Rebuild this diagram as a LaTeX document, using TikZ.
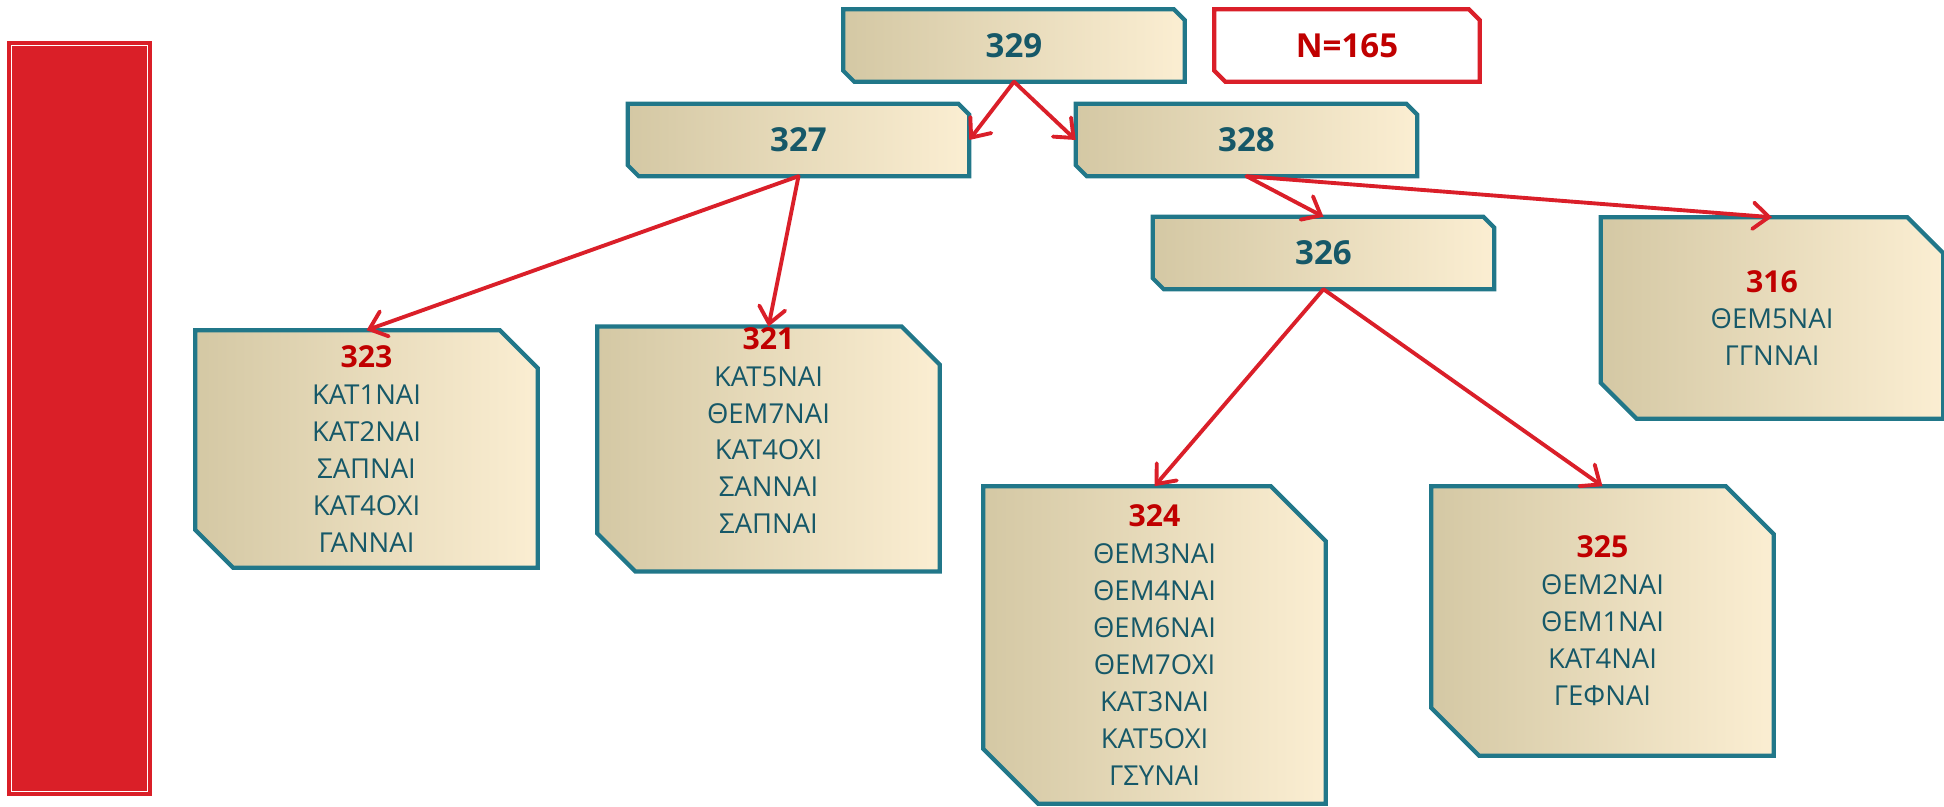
\documentclass[tikz,border=0pt]{standalone}
\usepackage{fontspec}
\setmainfont{Open Sans}
\usetikzlibrary{arrows.meta,backgrounds}
\definecolor{boxteal}{RGB}{33,119,137}
\definecolor{numteal}{RGB}{22,88,104}
\definecolor{numred}{RGB}{192,0,0}
\definecolor{linkred}{RGB}{218,31,41}
\definecolor{barred}{RGB}{218,31,40}
\definecolor{boxtan}{RGB}{212,200,164}
\definecolor{boxcream}{RGB}{251,238,210}
\newcommand\leafnum[1]{{\fontsize{8.6}{10.5}\selectfont\color{numred}\bfseries #1}}
\newcommand\chambox{}
\def\chambox[#1](#2)(#3){% \chambox[draw options](node)(corner size)
\draw [#1] (#2.north west) -- ([xshift=-#3]#2.north east) -- ([yshift=-#3]#2.north east)
	-- (#2.south east) -- ([xshift=#3]#2.south west) -- ([yshift=#3]#2.south west) -- cycle
}
\tikzset{
  boxline/.style={draw=boxteal, line width=1.2pt, left color=boxtan, right color=boxcream},
  countline/.style={draw=linkred, line width=1.2pt, fill=white},
  hdbox/.style={rectangle, minimum width=3.4cm, minimum height=0.71cm, inner sep=0pt,
    text=numteal, font=\fontsize{9.4}{11}\selectfont\bfseries},
  leafbox/.style={rectangle, minimum width=3.41cm, inner sep=0pt, align=center,
    text=numteal, font=\fontsize{7.8}{10.5}\selectfont},
  link/.style={draw=linkred, line width=1.1pt, line cap=round,
    -{Straight Barb[length=4.5pt,width=7.5pt,line cap=round]}}
}
\begin{document}
\begin{tikzpicture}[x=0.01cm,y=-0.01cm]
	\useasboundingbox (0,0) rectangle (1944,807);
	%% side bar
	\fill[barred] (7,41) rectangle (152,796);
	\draw[white,line width=0.45pt] (11.5,45.5) rectangle (147.5,791.5);
	%% upper levels
	\node[hdbox] (n329) at (1014,45.5) {329};
	\node[hdbox,minimum width=2.64cm,text=numred] (count) at (1347,45.5) {N=165};
	\node[hdbox] (n327) at (798.5,140) {327};
	\node[hdbox] (n328) at (1246.5,140) {328};
	\node[hdbox] (n326) at (1323.5,253) {326};
	%% leaves
	\node[leafbox,minimum height=2.36cm] (n323) at (366.5,449)
		{\leafnum{323}\\ ΚΑΤ1ΝΑΙ\\ ΚΑΤ2ΝΑΙ\\ ΣΑΠΝΑΙ\\ ΚΑΤ4ΟΧΙ\\ ΓΑΝΝΑΙ};
	\node[leafbox,minimum height=2.36cm] (n321) at (768.5,449)
		{\leafnum{321}\\ ΚΑΤ5ΝΑΙ\\ ΘΕΜ7ΝΑΙ\\ ΚΑΤ4ΟΧΙ\\ ΣΑΝΝΑΙ\\ ΣΑΠΝΑΙ\\ ~};
	\node[leafbox,minimum height=2.0cm] (n316) at (1772,318)
		{\leafnum{316}\\ ΘΕΜ5ΝΑΙ\\ ΓΓΝΝΑΙ};
	\node[leafbox,minimum height=3.16cm] (n324) at (1154.5,645)
		{\leafnum{324}\\ ΘΕΜ3ΝΑΙ\\ ΘΕΜ4ΝΑΙ\\ ΘΕΜ6ΝΑΙ\\ ΘΕΜ7ΟΧΙ\\ ΚΑΤ3ΝΑΙ\\ ΚΑΤ5ΟΧΙ\\ ΓΣΥΝΑΙ};
	\node[leafbox,minimum height=2.68cm] (n325) at (1602.5,621)
		{\leafnum{325}\\ ΘΕΜ2ΝΑΙ\\ ΘΕΜ1ΝΑΙ\\ ΚΑΤ4ΝΑΙ\\ ΓΕΦΝΑΙ};
	%% box outlines
	\begin{scope}[on background layer]
		\chambox[boxline](n329)(0.11cm);
		\chambox[countline](count)(0.11cm);
		\chambox[boxline](n327)(0.11cm);
		\chambox[boxline](n328)(0.11cm);
		\chambox[boxline](n326)(0.11cm);
		\chambox[boxline](n323)(0.38cm);
		\chambox[boxline](n321)(0.38cm);
		\chambox[boxline](n316)(0.36cm);
		\chambox[boxline](n324)(0.55cm);
		\chambox[boxline](n325)(0.48cm);
	\end{scope}
	%% links
	\draw[link] (n329.south) -- (n327.east);
	\draw[link] (n329.south) -- (n328.west);
	\draw[link] (n327.south) -- (n323.north);
	\draw[link] (n327.south) -- (n321.north);
	\draw[link] (n328.south) -- (n326.north);
	\draw[link] (n328.south) -- (n316.north);
	\draw[link] (n326.south) -- (n324.north);
	\draw[link] (n326.south) -- (n325.north);
\end{tikzpicture}
\end{document}
